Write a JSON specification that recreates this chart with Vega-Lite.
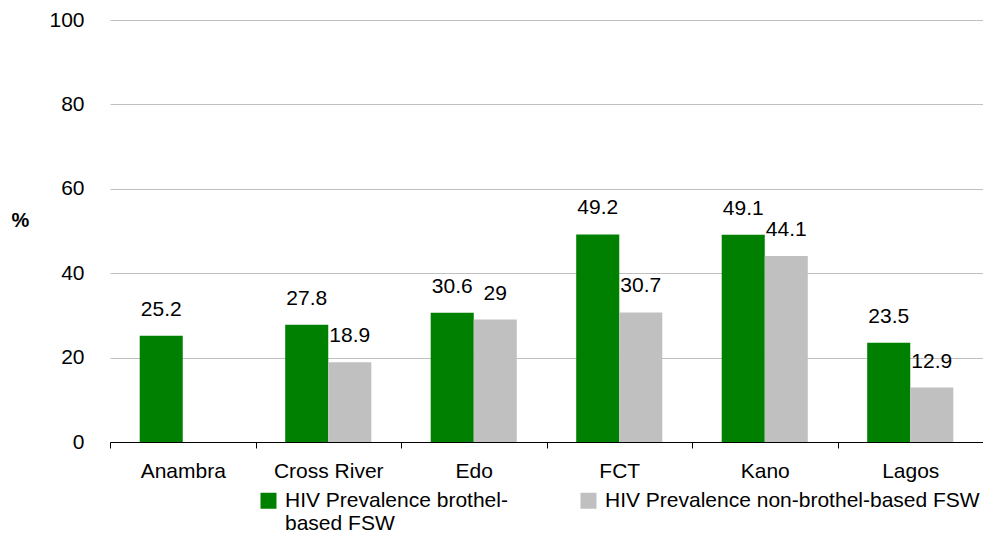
{
  "$schema": "https://vega.github.io/schema/vega-lite/v6.json",
  "width": 873,
  "height": 422,
  "autosize": {"type": "none"},
  "padding": {"left": 110, "top": 20, "right": 0, "bottom": 100},
  "background": "white",
  "config": {
    "font": "Liberation Sans",
    "view": {"stroke": null},
    "axis": {"labelFont": "Liberation Sans", "labelColor": "#000000", "titleFont": "Liberation Sans", "titleColor": "#000000"},
    "legend": {"labelFont": "Liberation Sans", "labelColor": "#000000"}
  },
  "data": {
    "values": [
      {"state": "Anambra", "group": "HIV Prevalence brothel-based FSW", "value": 25.2},
      {"state": "Cross River", "group": "HIV Prevalence brothel-based FSW", "value": 27.8},
      {"state": "Cross River", "group": "HIV Prevalence non-brothel-based FSW", "value": 18.9},
      {"state": "Edo", "group": "HIV Prevalence brothel-based FSW", "value": 30.6},
      {"state": "Edo", "group": "HIV Prevalence non-brothel-based FSW", "value": 29},
      {"state": "FCT", "group": "HIV Prevalence brothel-based FSW", "value": 49.2},
      {"state": "FCT", "group": "HIV Prevalence non-brothel-based FSW", "value": 30.7},
      {"state": "Kano", "group": "HIV Prevalence brothel-based FSW", "value": 49.1},
      {"state": "Kano", "group": "HIV Prevalence non-brothel-based FSW", "value": 44.1},
      {"state": "Lagos", "group": "HIV Prevalence brothel-based FSW", "value": 23.5},
      {"state": "Lagos", "group": "HIV Prevalence non-brothel-based FSW", "value": 12.9}
    ]
  },
  "encoding": {
    "x": {
      "field": "state",
      "type": "nominal",
      "sort": ["Anambra", "Cross River", "Edo", "FCT", "Kano", "Lagos"],
      "scale": {"paddingInner": 0, "paddingOuter": 0},
      "axis": {
        "title": null,
        "labelAngle": 0,
        "labelFontSize": 21,
        "labelPadding": 12,
        "labelBaseline": "top",
        "tickBand": "extent",
        "tickSize": 6,
        "tickColor": "#000000",
        "domainColor": "#000000",
        "grid": false
      }
    },
    "xOffset": {
      "field": "group",
      "type": "nominal",
      "sort": ["HIV Prevalence brothel-based FSW", "HIV Prevalence non-brothel-based FSW"],
      "scale": {"paddingInner": 0, "paddingOuter": 0.69}
    },
    "y": {
      "field": "value",
      "type": "quantitative",
      "scale": {"domain": [0, 100]},
      "axis": {
        "title": "%",
        "titleAngle": 0,
        "titleFontSize": 20,
        "titleFontWeight": "bold",
        "titleX": -90,
        "titleY": 200,
        "titleAlign": "center",
        "titleBaseline": "middle",
        "values": [0, 20, 40, 60, 80, 100],
        "labelFontSize": 21,
        "labelPadding": 26,
        "ticks": false,
        "domain": false,
        "grid": true,
        "gridColor": "#C0C0C0",
        "gridWidth": 1
      }
    }
  },
  "layer": [
    {
      "mark": {"type": "bar"},
      "encoding": {
        "color": {
          "field": "group",
          "type": "nominal",
          "scale": {
            "domain": ["HIV Prevalence brothel-based FSW", "HIV Prevalence non-brothel-based FSW"],
            "range": ["#008000", "#C0C0C0"]
          },
          "legend": {
            "title": null,
            "orient": "none",
            "direction": "horizontal",
            "legendX": 148,
            "legendY": 470,
            "padding": 0,
            "symbolType": "square",
            "symbolSize": 256,
            "symbolStrokeWidth": 0,
            "symbolOpacity": 1,
            "labelFontSize": 21,
            "labelOffset": 6,
            "labelLimit": 500,
            "columnPadding": 70,
            "labelExpr": "datum.label == 'HIV Prevalence brothel-based FSW' ? ['HIV Prevalence brothel-', 'based FSW'] : [datum.label, ' ']"
          }
        }
      }
    },
    {
      "mark": {"type": "text", "fontSize": 21, "baseline": "alphabetic", "dy": -20, "color": "#000000"},
      "encoding": {
        "text": {"field": "value", "type": "quantitative"}
      }
    }
  ]
}
